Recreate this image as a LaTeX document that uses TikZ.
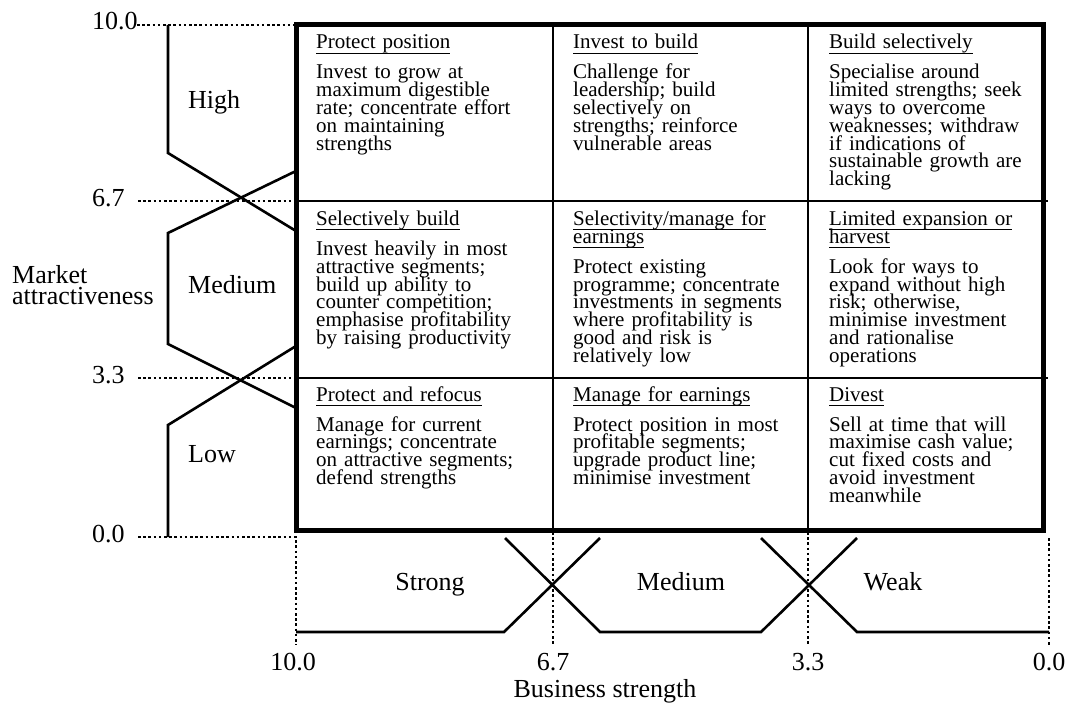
\documentclass[tikz,border=0pt]{standalone}
\usepackage{fontspec}
\setmainfont{Liberation Serif}
\newlength\ulw
\newcommand\ttl[1]{\settowidth\ulw{#1}\makebox[0pt][l]{\rule[-4.6pt]{\ulw}{0.9pt}}#1}
\newcommand\cellfont{\fontsize{21}{17.8}\selectfont\lineskiplimit=-100pt\relax}
\newcommand\labfont{\fontsize{26}{21}\selectfont\lineskiplimit=-100pt\relax}
\newcommand\tgap{\par\vspace{12.2pt}}
\begin{document}
\begin{tikzpicture}[x=1pt,y=-1pt,
  dots/.style={line width=2.4pt, dash pattern=on 2.6pt off 2.6pt},
  fz/.style={line width=2.6pt, line join=miter},
  grid/.style={line width=2.4pt},
  frame/.style={line width=5pt, line join=miter},
  cell/.style={anchor=base west, inner sep=0pt, text width=250pt, align=left, font=\cellfont},
  lab/.style={inner sep=0pt, font=\labfont}]
\useasboundingbox (0,0) rectangle (1073,706);
% coordinates
\coordinate (gTL) at (296,25);
\coordinate (gBR) at (1043,530);
% grid
\draw[grid] (296,201) -- (1048,201);
\draw[grid] (296,378) -- (1048,378);
\draw[grid] (553,25) -- (553,530);
\draw[grid] (808,25) -- (808,530);
\draw[frame] (gTL) rectangle (gBR);
% left dotted guides
\draw[dots] (137,25) -- (296,25);
\draw[dots] (138,201) -- (296,201);
\draw[dots] (138,378) -- (296,378);
\draw[dots] (138,537) -- (296,537) -- (296,645);
\draw[dots] (553,532) -- (553,645);
\draw[dots] (808,532) -- (808,645);
\draw[dots] (1049,538) -- (1049,645);
% left fuzzy sets
\draw[fz] (168,25) -- (168,153) -- (296,231);
\draw[fz] (296,171) -- (168,233) -- (168,344) -- (296,408);
\draw[fz] (296,346) -- (168,425) -- (168,537);
% bottom fuzzy sets
\draw[fz] (296,632) -- (504,632) -- (600,538);
\draw[fz] (505,538) -- (600,632) -- (761,632) -- (857,538);
\draw[fz] (761,538) -- (857,632) -- (1049,632);
% axis labels
\node[lab, anchor=base west] (n10) at (92,30) {10.0};
\node[lab, anchor=base west] (n67) at (92,206) {6.7};
\node[lab, anchor=base west] (n33) at (92,383) {3.3};
\node[lab, anchor=base west] (n00) at (92,542) {0.0};
\node[lab, anchor=base west] (high) at (188,109) {High};
\node[lab, anchor=base west] (med) at (188,293) {Medium};
\node[lab, anchor=base west] (low) at (188,462) {Low};
\node[lab, anchor=base west, text width=200pt, align=left] (ma) at (12,283) {Market\\attractiveness};
\node[lab, anchor=base] (b10) at (293,670) {10.0};
\node[lab, anchor=base] (b67) at (553,670) {6.7};
\node[lab, anchor=base] (b33) at (808,670) {3.3};
\node[lab, anchor=base] (b00) at (1049,670) {0.0};
\node[lab, anchor=base] (bs) at (605,697) {Business strength};
\node[lab, anchor=base] (strong) at (430,590) {Strong};
\node[lab, anchor=base] (bmed) at (681,590) {Medium};
\node[lab, anchor=base] (weak) at (893,590) {Weak};
% cells row 1
\node[cell] (c11) at (316,49) {\ttl{Protect position}\tgap
Invest to grow at\\maximum digestible\\rate; concentrate effort\\on maintaining\\strengths};
\node[cell] (c12) at (573,49) {\ttl{Invest to build}\tgap
Challenge for\\leadership; build\\selectively on\\strengths; reinforce\\vulnerable areas};
\node[cell] (c13) at (829,49) {\ttl{Build selectively}\tgap
Specialise around\\limited strengths; seek\\ways to overcome\\weaknesses; withdraw\\if indications of\\sustainable growth are\\lacking};
% row 2
\node[cell] (c21) at (316,225.5) {\ttl{Selectively build}\tgap
Invest heavily in most\\attractive segments;\\build up ability to\\counter competition;\\emphasise profitability\\by raising productivity};
\node[cell] (c22) at (573,225.5) {\ttl{Selectivity/manage for}\\\ttl{earnings}\tgap
Protect existing\\programme; concentrate\\investments in segments\\where profitability is\\good and risk is\\relatively low};
\node[cell] (c23) at (829,225.5) {\ttl{Limited expansion or}\\\ttl{harvest}\tgap
Look for ways to\\expand without high\\risk; otherwise,\\minimise investment\\and rationalise\\operations};
% row 3
\node[cell] (c31) at (316,401) {\ttl{Protect and refocus}\tgap
Manage for current\\earnings; concentrate\\on attractive segments;\\defend strengths};
\node[cell] (c32) at (573,401) {\ttl{Manage for earnings}\tgap
Protect position in most\\profitable segments;\\upgrade product line;\\minimise investment};
\node[cell] (c33) at (829,401) {\ttl{Divest}\tgap
Sell at time that will\\maximise cash value;\\cut fixed costs and\\avoid investment\\meanwhile};
\end{tikzpicture}
\end{document}
